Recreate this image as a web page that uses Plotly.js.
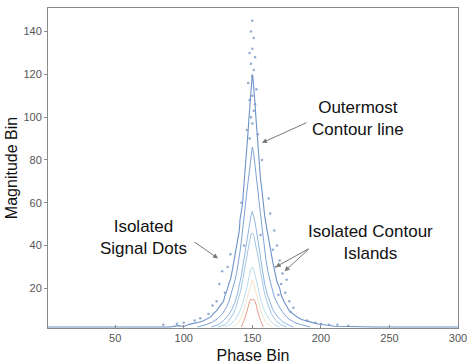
<!DOCTYPE html>
<html>
<head>
<meta charset="utf-8">
<script src="https://cdn.plot.ly/plotly-3.0.1.min.js"></script>
<style>html,body{margin:0;padding:0;background:#fff;}#chart{width:474px;height:364px;}</style>
</head>
<body>
<div id="chart"></div>
<script>
// Contour level 1 (outermost)
const c1x = [1,60,90,96,100,104,108,111,114,117,120,122,124,126,127,129,130,131,132,133,134,135,135.5,136.5,137.5,138.5,139.5,140.5,141,142,143,143.5,144,145,145.5,146,146.5,147,147.5,148,148.5,149,149.5,150,150.5,151,151.5,152,152.5,153,153.5,154,155,155.5,156,157,157.5,158,159,160,161,162,163,164,165,166,167,168,170,171,173,175,177,180,183,186,190,194,198,203,210,240,300];
const c1y = [2,2,2,2.6,2.2,3.2,3.6,4.2,4.8,6,6.8,8.5,9.6,11.5,12.5,14,16.5,18,20,22.5,24,27,29,33,35,39,43,47,52,56,60,65,69,74,79,84,89,94,99,104,109,113,117,120,118,115,111,106,101,96,91,86,80,76,71,66,62,58,54,50,46,42,39,35,32,29,26,23,20,17,14,11.5,9.5,8,6.5,5.5,4.6,4,3.4,2.8,2.3,2,2];
// Contour level 2
const c2x = [110,116,121,125,128,131,133,135,137,138.5,140,141,142,143,144,145,146,147,148,149,150,151,152,153,154,155,156,157,158,159,160,162,164,166,169,172,176,181,186,192];
const c2y = [2,3,4.3,6,8,11,14,18,23,27,32,37,42,47,53,59,65,71,77,82,86,83,78,72,66,60,54,48,43,38,33,26,21,16,12,9,6,4,3,2];
// Contour level 3
const c3x = [120,125,129,132,135,137,139,140.5,142,143,144,145,146,147,148,149,150,151,152,153,154,155,156,157,158,159,161,163,165,168,172,176,180];
const c3y = [2,3,5,7,10,13,17,21,26,30,34,39,43,47,51,54,56,54,51,47,43,39,34,30,26,22,17,13,10,7,4.5,3,2];
// Contour level 4
const c4x = [125,130,133,136,138,140,141.5,143,144,145,146,147,148,149,150,151,152,153,154,155,156,157,158.5,160,162,164,167,171,175];
const c4y = [2,3,5,8,11,15,19,24,28,32,35,39,42,45,46,45,42,39,35,32,28,24,19,15,11,8,5,3,2];
// Contour level 5
const c5x = [130,134,137,140,142,144,146,147.5,149,150,151,152.5,154,156,158,160,163,166,170];
const c5y = [2,3,5,8,11,15,20,25,29,30,29,25,20,15,11,8,5,3,2];
// Contour level 6 (pale)
const c6x = [136,140,143,145,147,149,150,151,153,155,157,160,164];
const c6y = [2,4,8,12,17,22,24,22,17,12,8,4,2];
// Contour level 7 (red, innermost)
const c7x = [142,144,146,147,148,149,150,151,152,153,154,156,158];
const c7y = [2,5,9,12,14,15,14.5,15,14,12,9,5,2];
// Isolated signal dots
const dotX = [150,149,151,150,148,152,149,151,150,147,153,150,148,152,151,149,150,146,154,148,
              163,166,168,170,172,165,171,174,177,180,167,175,178,162,169,
              126,128,130,124,132,121,118,134,
              85,95,100,108,112,190,196,200,206,212,220,157,142,156,144];
const dotY = [145,140,137,132,130,128,125,122,119,116,113,110,108,106,103,100,97,94,92,90,
              55,47,40,33,27,38,22,18,14,11,30,24,9,62,17,
              22,28,18,14,30,12,8,36,
              3,3.5,4,5,6,5,4,3.5,3,3,2.5,80,60,45,40];

const lineStyle = (c, w) => ({color: c, width: w, shape: 'linear'});
const data = [
  {x: c1x, y: c1y, mode: 'lines', line: lineStyle('#6d93c8', 1.1)},
  {x: c2x, y: c2y, mode: 'lines', line: lineStyle('#7ea3d2', 1.0)},
  {x: c3x, y: c3y, mode: 'lines', line: lineStyle('#90b6de', 1.0)},
  {x: c4x, y: c4y, mode: 'lines', line: lineStyle('#a2c6e6', 1.0)},
  {x: c5x, y: c5y, mode: 'lines', line: lineStyle('#bcdded', 1.0)},
  {x: c6x, y: c6y, mode: 'lines', line: lineStyle('#f2e4cc', 1.0)},
  {x: c7x, y: c7y, mode: 'lines', line: lineStyle('#e99a8a', 1.0)},
  {x: dotX, y: dotY, mode: 'markers', marker: {color: '#7896c4', size: 2.5, opacity: 0.8}}
];

const annFont = {family: 'Liberation Sans, Arial, sans-serif', size: 17, color: '#111'};
const margin = {l: 48, r: 16, t: 8, b: 36};
const pw = 474 - margin.l - margin.r, ph = 364 - margin.t - margin.b;
const px2x = p => (p - margin.l) / pw;
const px2y = p => 1 - (p - margin.t) / ph;
const textAnn = (px, py, t) => ({x: px2x(px), y: px2y(py), xref: 'paper', yref: 'paper',
  xanchor: 'center', yanchor: 'middle', text: t, showarrow: false, font: annFont});
const arrowAnn = (x, y) => ({x: x, y: y, xref: 'x', yref: 'y', ax: 0, ay: 0, text: '',
  showarrow: true, arrowhead: 2, arrowsize: 1, arrowwidth: 1, arrowcolor: '#777'});
const layout = {
  width: 474, height: 364,
  margin: margin,
  paper_bgcolor: '#fff', plot_bgcolor: '#fff',
  showlegend: false,
  font: {family: 'Liberation Sans, Arial, sans-serif'},
  xaxis: {
    range: [1, 300], tickvals: [50,100,150,200,250,300],
    showgrid: false, zeroline: false, showline: true, mirror: true,
    linecolor: '#8a8a8a', linewidth: 1, ticks: 'inside', ticklen: 3, tickcolor: '#8a8a8a',
    tickfont: {size: 11, color: '#555'},
    title: {text: 'Phase Bin', font: {size: 16, color: '#111'}, standoff: 6}
  },
  yaxis: {
    range: [1.5, 151], tickvals: [20,40,60,80,100,120,140],
    showgrid: false, zeroline: false, showline: true, mirror: true,
    linecolor: '#8a8a8a', linewidth: 1, ticks: 'outside', ticklen: 3, tickcolor: '#8a8a8a',
    tickfont: {size: 11, color: '#555'},
    title: {text: 'Magnitude Bin', font: {size: 16, color: '#111'}, standoff: 1}
  },
  annotations: [
    arrowAnn(157, 88), arrowAnn(125, 34), arrowAnn(167, 30), arrowAnn(173.5, 28),
    textAnn(358, 118, 'Outermost<br>Contour line'),
    textAnn(143, 237, 'Isolated<br>Signal Dots'),
    textAnn(370, 242, 'Isolated Contour<br>Islands')
  ]
};
const tails = [[308,122],[193,241],[310,248],[310,248]];
Plotly.newPlot('chart', data, layout, {staticPlot: true}).then(gd => {
  const xa = gd._fullLayout.xaxis, ya = gd._fullLayout.yaxis;
  const upd = {};
  tails.forEach((t, i) => {
    const a = layout.annotations[i];
    const hx = xa._offset + xa.l2p(a.x), hy = ya._offset + ya.l2p(a.y);
    upd['annotations[' + i + '].ax'] = t[0] - hx;
    upd['annotations[' + i + '].ay'] = t[1] - hy;
  });
  return Plotly.relayout(gd, upd);
});
</script>
</body>
</html>
